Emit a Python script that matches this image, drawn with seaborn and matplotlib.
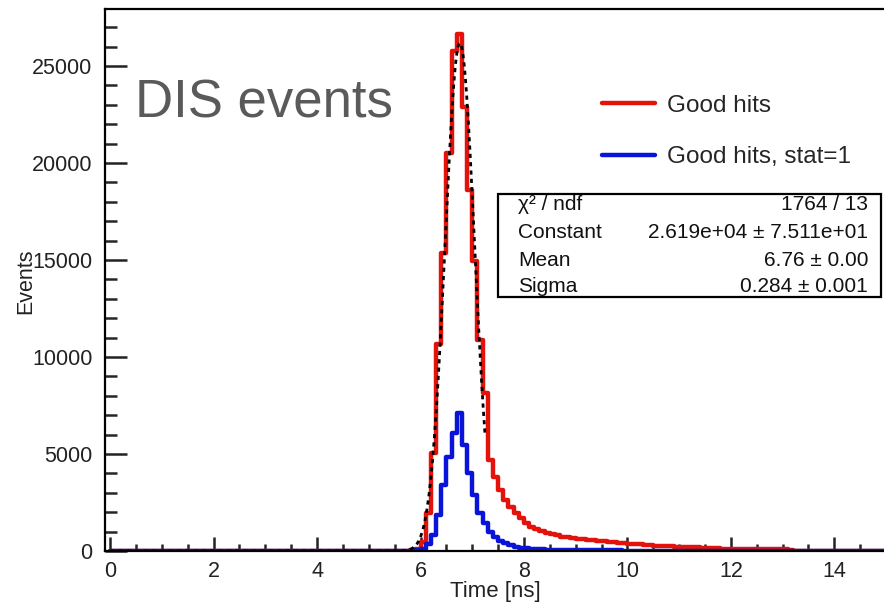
import matplotlib
matplotlib.use("Agg")
import matplotlib.pyplot as plt
from matplotlib.lines import Line2D
from matplotlib.patches import Rectangle
import numpy as np
import pandas as pd
import seaborn as sns

# histogram binning: 0.1 ns bins from 0 to 15 ns
bin_width = 0.1
n_bins = 150
first_filled = 55  # bins before 5.5 ns are empty

# "Good hits" counts, bins from 5.5 ns upward
good_hits = [0, 5, 15, 40, 120, 460, 1960, 5050, 10670, 15360,
             20500, 25770, 26650, 22890, 18600, 14950, 10880, 8140, 4690, 3800,
             3140, 2630, 2270, 1960, 1700, 1440, 1240, 1120, 1030, 940,
             880, 800, 740, 700, 670, 640, 620, 590, 560, 520,
             490, 470, 440, 420, 400, 370, 350, 340, 320, 300,
             270, 260, 250, 240, 230, 220, 200, 195, 190, 180,
             170, 150, 130, 125, 120, 115, 110, 110, 105, 100,
             100, 95, 90, 90, 85, 80, 30, 20, 15, 10,
             10, 8, 8, 6, 6, 5, 5, 4, 4, 3,
             3, 2, 2, 1, 1]

# "Good hits, stat=1" counts, bins from 5.5 ns upward
good_hits_stat1 = [0, 0, 5, 15, 30, 120, 350, 800, 1860, 3400,
                   4850, 6080, 7110, 5460, 4020, 2890, 1960, 1440, 1000, 720,
                   520, 400, 300, 220, 160, 130, 110, 90, 80, 75,
                   70, 65, 60, 60, 55, 50, 50, 45, 45, 40,
                   40, 35, 30, 30, 25, 25, 20, 20, 20, 15,
                   15, 15, 10, 10, 10, 10, 8, 8, 6, 6,
                   5, 5, 5, 4, 4, 3, 3, 3, 2, 2,
                   2, 2, 1, 1, 1, 1, 1, 1, 0, 0,
                   0, 0, 0, 0, 0, 0, 0, 0, 0, 0,
                   0, 0, 0, 0, 0]

# gaussian fit result
fit_const = 2.619e+04
fit_mean = 6.76
fit_sigma = 0.284
fit_range = (0.0, 7.25)

stat_names = ["\u03c7\u00b2 / ndf", "Constant", "Mean", "Sigma"]
stat_values = ["1764 / 13", "2.619e+04 \u00b1 7.511e+01", "6.76 \u00b1 0.00", "0.284 \u00b1 0.001"]

legend_labels = ["Good hits", "Good hits, stat=1"]

sns.set_style("ticks")
plt.rcParams['font.family'] = ['Liberation Sans', 'DejaVu Sans']

centers = np.arange(n_bins) * bin_width + bin_width / 2
red_counts = np.zeros(n_bins)
red_counts[first_filled:first_filled + len(good_hits)] = good_hits
blue_counts = np.zeros(n_bins)
blue_counts[first_filled:first_filled + len(good_hits_stat1)] = good_hits_stat1
df = pd.DataFrame({"time": centers, "red": red_counts, "blue": blue_counts})

W, H = 884, 603
fig = plt.figure(figsize=(W / 100, H / 100), dpi=100)
ax = fig.add_axes([105 / W, 52 / H, (886 - 105) / W, (551 - 9) / H])

sns.histplot(data=df, x="time", weights="red", binwidth=bin_width, binrange=(0, 15),
             element="step", fill=False, color="#e3120b", linewidth=3.2, ax=ax)
sns.histplot(data=df, x="time", weights="blue", binwidth=bin_width, binrange=(0, 15),
             element="step", fill=False, color="#0a14d8", linewidth=3.2, ax=ax)

xf = np.linspace(fit_range[0], fit_range[1], 400)
yf = fit_const * np.exp(-0.5 * ((xf - fit_mean) / fit_sigma) ** 2)
sns.lineplot(x=xf, y=yf, color="black", linewidth=2, linestyle=(0, (1.5, 1.5)), ax=ax)

ax.set_xlim(-0.1, 15.0)
ax.set_ylim(0, 27940)
ax.set_xticks(np.arange(0, 15, 2))
ax.set_xticks(np.arange(0, 15, 0.5), minor=True)
ax.set_yticks(np.arange(0, 26000, 5000))
ax.set_yticks(np.arange(0, 28000, 1000), minor=True)
ax.tick_params(axis="x", which="major", direction="in", length=10, width=1.8, labelsize=15.5, pad=7)
ax.tick_params(axis="x", which="minor", direction="in", length=5, width=1.8)
ax.tick_params(axis="y", which="major", direction="in", length=16, width=1.8, labelsize=15.5, pad=9)
ax.tick_params(axis="y", which="minor", direction="in", length=8.5, width=1.8)
ax.tick_params(colors="#222222", labelcolor="#222222")
for sp in ax.spines.values():
    sp.set_linewidth(1.6)
    sp.set_color("black")

ax.set_xlabel("Time [ns]", fontsize=16, color="#222222")
ax.set_ylabel("Events", fontsize=15.5, color="#222222")
ax.xaxis.set_label_coords(0.5, -0.0545)
ax.yaxis.set_label_coords(-0.088, 0.497)

handles = [Line2D([], [], color="#e3120b", lw=3.2), Line2D([], [], color="#0a14d8", lw=3.2)]
ax.legend(handles, legend_labels, frameon=False, fontsize=17.5, loc="upper left",
          bbox_to_anchor=(592 / W, 1 - 85 / H), bbox_transform=fig.transFigure,
          handlelength=2.2, handletextpad=0.5, labelspacing=1.22, borderaxespad=0)

fig.text(135 / W, 1 - 117 / H, "DIS events", fontsize=38, color="#5a5a5a", va="baseline")

box = Rectangle((498 / W, 1 - 297 / H), (881 - 498) / W, (297 - 194) / H,
                transform=fig.transFigure, facecolor="white", edgecolor="black", lw=1.6, zorder=5)
fig.patches.append(box)
row_y = [205, 233, 260, 286]
for name, val, yy in zip(stat_names, stat_values, row_y):
    fig.text(518 / W, 1 - yy / H, name, fontsize=15, va="center", ha="left", zorder=6, color="#111111")
    fig.text(868 / W, 1 - yy / H, val, fontsize=15, va="center", ha="right", zorder=6, color="#111111")

fig.savefig("out.png", dpi=100)
